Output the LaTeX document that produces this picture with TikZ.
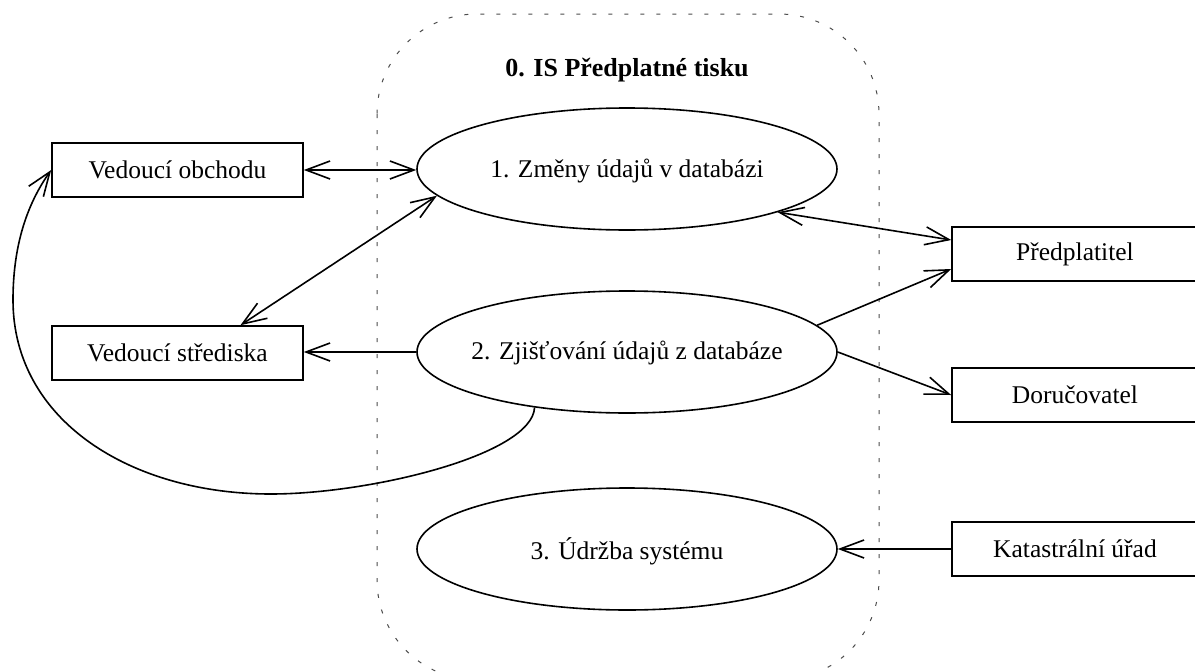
\documentclass[tikz,border=0pt]{standalone}
\usepackage{fontspec}
\setmainfont{Liberation Serif}
\usetikzlibrary{shapes.geometric,arrows.meta}
\begin{document}
\begin{tikzpicture}[x=1pt,y=-1pt,
  every node/.style={font=\fontsize{25.5}{30}\selectfont},
  every label/.style={font=\fontsize{25.5}{30}\selectfont},
  actor/.style={draw,line width=1.6pt,rectangle,minimum height=54pt,inner sep=0pt},
  proc/.style={draw,line width=1.6pt,ellipse,inner sep=0pt,minimum width=420pt,minimum height=122pt},
  flow/.style={line width=1.6pt,-{Straight Barb[length=24pt,width=18pt,line width=1.6pt]}},
  bflow/.style={line width=1.6pt,{Straight Barb[length=24pt,width=18pt,line width=1.6pt]}-{Straight Barb[length=24pt,width=18pt,line width=1.6pt]}},
  boundary/.style={draw=black!70,line width=1pt,dash pattern=on 4pt off 12pt,rounded corners=100pt}]
\useasboundingbox (0,0) rectangle (1195,672);
\draw[boundary] (377,14) rectangle (879,680);
\node[font=\fontsize{26}{31}\selectfont\bfseries] (title) at (627,70) {0. IS Předplatné tisku};
\node[proc,label={[yshift=-2pt]center:{1. Změny údajů v databázi}}] (e1) at (627,169) {};
\node[proc,label={[yshift=-1pt]center:{2. Zjišťování údajů z databáze}}] (e2) at (627,352) {};
\node[proc,label={[yshift=-2pt]center:{3. Údržba systému}}] (e3) at (627,549) {};
\node[actor,minimum width=251pt] (vo) at (177.5,170) {Vedoucí obchodu};
\node[actor,minimum width=251pt] (vs) at (177.5,353) {Vedoucí střediska};
\node[actor,minimum width=246pt] (pr) at (1075,254) {Předplatitel};
\node[actor,minimum width=246pt] (dr) at (1075,395) {Doručovatel};
\node[actor,minimum width=246pt] (ku) at (1075,549) {Katastrální úřad};
\coordinate (vstop) at ([xshift=63pt]vs.north);
\coordinate (prin1) at ([yshift=14pt]pr.west);
\coordinate (prin2) at ([yshift=-15pt]pr.west);
\draw[bflow] (vo.east) -- (vo.east -| e1.west);
\draw[bflow] (e1.188.4) -- (vstop);
\draw[flow] (e2.west) -- (e2.west -| vs.east);
\draw[bflow] (e1.-16.6) -- (prin1);
\draw[flow] (e2.8.8) -- (prin2);
\draw[flow] (e2.east) -- (dr.west);
\draw[flow] (ku.west) -- (ku.west -| e3.east);
\draw[flow] (e2.211) .. controls (532,455) and (370,494) .. (271,494)
  .. controls (130,494) and (13,420) .. (13,300)
  .. controls (13,240) and (30,200) .. (vo.west);
\end{tikzpicture}
\end{document}
